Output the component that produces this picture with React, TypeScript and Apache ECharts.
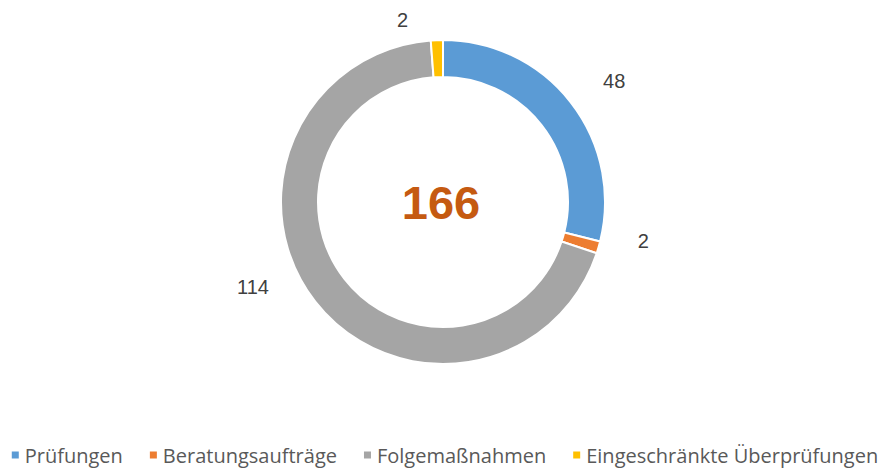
import React, { useEffect, useRef } from "react";
import * as echarts from "echarts";

const categories = ["Prüfungen", "Beratungsaufträge", "Folgemaßnahmen", "Eingeschränkte Überprüfungen"];
const values = [48, 2, 114, 2];
const colors = ["#5B9BD5", "#ED7D31", "#A5A5A5", "#FFC000"];
const totalLabel = "166";
const labelNudges = [
  [0, -8],
  [3, -13],
  [-14, -28],
  [-13, 2],
];

export default function App() {
  const ref = useRef<HTMLDivElement>(null);
  useEffect(() => {
    document.body.style.margin = "0";
    const chart = echarts.init(ref.current!, undefined, { renderer: "svg" });
    chart.setOption({
      animation: false,
      color: colors,
      legend: {
        top: 440,
        left: "center",
        padding: [5, 5, 0, 5],
        itemWidth: 9,
        itemHeight: 9,
        itemGap: 25,
        icon: "rect",
        textStyle: { fontSize: 20, lineHeight: 20, color: "#595959", fontFamily: "Open Sans" },
      },
      graphic: [
        {
          type: "text",
          x: 441,
          y: 202,
          style: {
            text: totalLabel,
            fontSize: 47,
            fontWeight: "bold",
            fill: "#C55A11",
            fontFamily: "Liberation Sans",
            textAlign: "center",
            textVerticalAlign: "middle",
          },
        },
      ],
      series: [
        {
          type: "pie",
          center: [443, 202],
          radius: [125, 162],
          startAngle: 90,
          clockwise: true,
          avoidLabelOverlap: false,
          itemStyle: { borderColor: "#fff", borderWidth: 2 },
          label: {
            show: true,
            position: "outside",
            formatter: "{c}",
            fontSize: 20,
            color: "#404040",
            fontFamily: "Liberation Sans",
          },
          labelLine: { show: false, length: 22, length2: 10 },
          labelLayout: (p: any) => ({ dx: labelNudges[p.dataIndex][0], dy: labelNudges[p.dataIndex][1] }),
          data: categories.map((name, i) => ({ name, value: values[i] })),
        },
      ],
    });
    return () => chart.dispose();
  }, []);
  return <div ref={ref} style={{ width: 888, height: 470 }} />;
}
